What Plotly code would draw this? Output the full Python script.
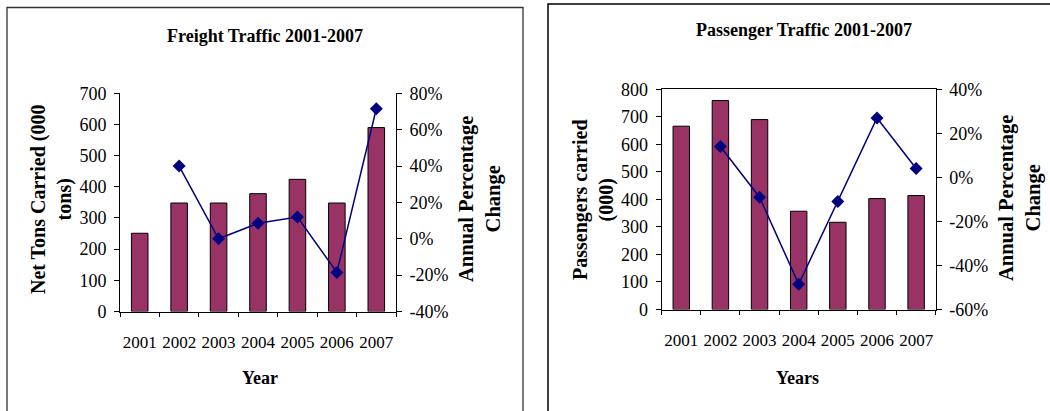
import plotly.graph_objects as go

# ---------------- data ----------------
years = ["2001", "2002", "2003", "2004", "2005", "2006", "2007"]

freight_tons = [251, 348, 348, 378, 424, 348, 590]          # 000 tons
freight_pct_years = ["2002", "2003", "2004", "2005", "2006", "2007"]
freight_pct = [40, 0, 8.5, 12, -18.5, 71.5]                  # %

passenger_k = [666, 759, 690, 357, 317, 403, 414]            # 000
passenger_pct_years = ["2002", "2003", "2004", "2005", "2006", "2007"]
passenger_pct = [14, -9, -48.5, -11, 27, 4]                  # %

freight_left_ticks = [0, 100, 200, 300, 400, 500, 600, 700]
freight_right_ticks = [-40, -20, 0, 20, 40, 60, 80]
passenger_left_ticks = [0, 100, 200, 300, 400, 500, 600, 700, 800]
passenger_right_ticks = [-60, -40, -20, 0, 20, 40]

# ---------------- styling ----------------
W, H = 1050, 411
FONT = "Liberation Serif"
BAR_COLOR = "#993366"
LINE_COLOR = "#000080"
YTICK_SIZE = 18
XTICK_SIZE = 17


def px_x(p):
    return p / W


def px_y(p):
    return 1 - p / H


fig = go.Figure()

# Freight
fig.add_trace(go.Bar(x=years, y=freight_tons, xaxis="x", yaxis="y",
                     marker=dict(color=BAR_COLOR, line=dict(color="black", width=1)),
                     width=0.42, showlegend=False))
fig.add_trace(go.Scatter(x=freight_pct_years, y=freight_pct, xaxis="x", yaxis="y2",
                         mode="lines+markers",
                         line=dict(color=LINE_COLOR, width=1.5),
                         marker=dict(symbol="diamond", size=10, color=LINE_COLOR),
                         showlegend=False))
# Passenger
fig.add_trace(go.Bar(x=years, y=passenger_k, xaxis="x3", yaxis="y5",
                     marker=dict(color=BAR_COLOR, line=dict(color="black", width=1)),
                     width=0.42, showlegend=False))
fig.add_trace(go.Scatter(x=passenger_pct_years, y=passenger_pct, xaxis="x3", yaxis="y6",
                         mode="lines+markers",
                         line=dict(color=LINE_COLOR, width=1.5),
                         marker=dict(symbol="diamond", size=10, color=LINE_COLOR),
                         showlegend=False))

n = len(years)
boundaries = [i - 0.5 for i in range(n + 1)]

yfont = dict(family=FONT, size=YTICK_SIZE, color="black")
xfont = dict(family=FONT, size=XTICK_SIZE, color="black")

base = dict(showgrid=False, zeroline=False, linecolor="black", linewidth=1,
            tickcolor="black", tickwidth=1, automargin=False)

# domains (pixel positions of plot areas)
fx = [px_x(120), px_x(396)]
fy = [px_y(311.5), px_y(93.3)]
px_ = [px_x(661.7), px_x(935.7)]
py_ = [px_y(309.5), px_y(89.3)]


def pct_text(v):
    return f"{v}%"


layout = dict(
    width=W, height=H,
    margin=dict(l=0, r=0, t=0, b=0, pad=0, autoexpand=False),
    paper_bgcolor="white", plot_bgcolor="white",
    font=dict(family=FONT, color="black"),
    showlegend=False,
    # ---------- freight ----------
    xaxis=dict(domain=fx, anchor="y", type="category", categoryorder="array",
               categoryarray=years, range=[-0.5, n - 0.5], showline=True,
               ticks="outside", ticklen=4, tickson="boundaries", tickangle=0,
               ticklabelstandoff=15, tickfont=xfont, **base),
    yaxis=dict(domain=fy, anchor="x", range=[0, 700], tickvals=freight_left_ticks,
               showline=True, ticks="outside", ticklen=5, ticklabelstandoff=4,
               tickfont=yfont, **base),
    yaxis2=dict(anchor="x", overlaying="y", side="right", range=[-40, 80],
                tickvals=freight_right_ticks,
                ticktext=[pct_text(v) for v in freight_right_ticks],
                showline=True, ticks="outside", ticklen=5, ticklabelstandoff=4,
                tickfont=yfont, **base),
    xaxis2=dict(overlaying="x", anchor="y", range=[-0.5, n - 0.5], tickvals=boundaries,
                ticks="inside", ticklen=4, showticklabels=False, showline=False, **base),
    yaxis3=dict(overlaying="y", anchor="x", side="left", range=[0, 700],
                tickvals=freight_left_ticks, ticks="inside", ticklen=5,
                showticklabels=False, showline=False, **base),
    yaxis4=dict(overlaying="y", anchor="x", side="right", range=[-40, 80],
                tickvals=freight_right_ticks, ticks="inside", ticklen=5,
                showticklabels=False, showline=False, **base),
    # ---------- passenger ----------
    xaxis3=dict(domain=px_, anchor="y5", type="category", categoryorder="array",
                categoryarray=years, range=[-0.5, n - 0.5], showline=True, mirror=True,
                ticks="outside", ticklen=4, tickson="boundaries", tickangle=0,
                ticklabelstandoff=15, tickfont=xfont, **base),
    yaxis5=dict(domain=py_, anchor="x3", range=[0, 800], tickvals=passenger_left_ticks,
                showline=True, ticks="outside", ticklen=5, ticklabelstandoff=4,
                tickfont=yfont, **base),
    yaxis6=dict(anchor="x3", overlaying="y5", side="right", range=[-60, 40],
                tickvals=passenger_right_ticks,
                ticktext=[pct_text(v) for v in passenger_right_ticks],
                showline=True, ticks="outside", ticklen=5, ticklabelstandoff=4,
                tickfont=yfont, **base),
    xaxis4=dict(overlaying="x3", anchor="y5", range=[-0.5, n - 0.5], tickvals=boundaries,
                ticks="inside", ticklen=4, showticklabels=False, showline=False, **base),
    yaxis7=dict(overlaying="y5", anchor="x3", side="left", range=[0, 800],
                tickvals=passenger_left_ticks, ticks="inside", ticklen=5,
                showticklabels=False, showline=False, **base),
    yaxis8=dict(overlaying="y5", anchor="x3", side="right", range=[-60, 40],
                tickvals=passenger_right_ticks, ticks="inside", ticklen=5,
                showticklabels=False, showline=False, **base),
)
fig.update_layout(**layout)

# panel frames
fig.add_shape(type="rect", xref="paper", yref="paper",
              x0=px_x(7), x1=px_x(523), y0=px_y(430), y1=px_y(7.5),
              line=dict(color="#333333", width=1.3), fillcolor="rgba(0,0,0,0)", layer="below")
fig.add_shape(type="rect", xref="paper", yref="paper",
              x0=px_x(548), x1=px_x(1070), y0=px_y(430), y1=px_y(4),
              line=dict(color="black", width=1.5), fillcolor="rgba(0,0,0,0)", layer="below")


def ann(text, xpx, ypx, size, bold=True, angle=0):
    fig.add_annotation(text=f"<b>{text}</b>" if bold else text,
                       x=px_x(xpx), y=px_y(ypx), xref="paper", yref="paper",
                       xanchor="center", yanchor="middle", showarrow=False,
                       textangle=angle,
                       font=dict(family=FONT, size=size, color="black"))


ann("Freight Traffic 2001-2007", 265, 36, 18)
ann("Passenger Traffic 2001-2007", 804, 30, 18)
ann("Net Tons Carried (000<br>tons)", 51, 200, 20, angle=-90)
ann("Annual Percentage<br>Change", 480, 199, 20.5, angle=-90)
ann("Year", 260, 378, 18)
ann("Passengers carried<br>(000)", 593, 200, 20, angle=-90)
ann("Annual Percentage<br>Change", 1020, 198, 20.5, angle=-90)
ann("Years", 797, 378, 18)

fig.write_html("out.html")
